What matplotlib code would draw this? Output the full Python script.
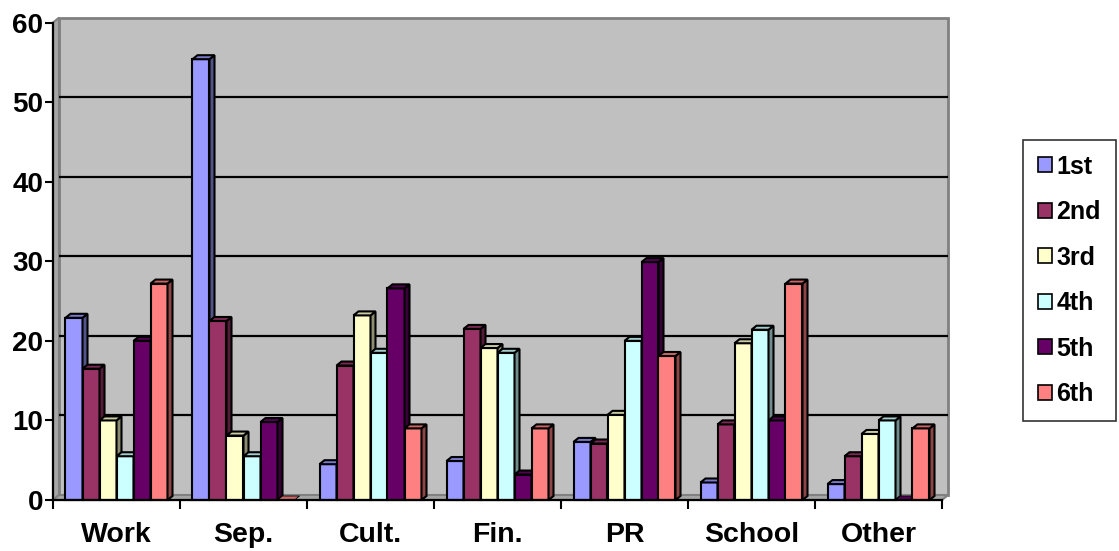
import matplotlib
matplotlib.use("Agg")
import matplotlib.pyplot as plt
from matplotlib.patches import Polygon, Patch
import numpy as np

categories = ["Work", "Sep.", "Cult.", "Fin.", "PR", "School", "Other"]
series_names = ["1st", "2nd", "3rd", "4th", "5th", "6th"]
s1 = [22.9, 55.4, 4.5, 4.9, 7.3, 2.2, 2.0]
s2 = [16.5, 22.5, 16.9, 21.5, 7.1, 9.5, 5.5]
s3 = [10.0, 8.1, 23.2, 19.1, 10.7, 19.7, 8.3]
s4 = [5.5, 5.5, 18.5, 18.5, 20.0, 21.4, 10.0]
s5 = [20.0, 9.8, 26.6, 3.2, 29.9, 10.0, 0.0]
s6 = [27.2, 0.0, 9.0, 9.0, 18.1, 27.2, 9.0]
yticks = [0, 10, 20, 30, 40, 50, 60]

series = [s1, s2, s3, s4, s5, s6]
colors = ["#9999FF", "#993366", "#FFFFCC", "#CCFFFF", "#660066", "#FF8080"]

plt.rcParams["font.family"] = ["Liberation Sans", "DejaVu Sans"]
plt.rcParams["font.weight"] = "bold"

W, H, DPI = 1119, 551, 100
fig = plt.figure(figsize=(W / DPI, H / DPI), dpi=DPI)
ax = fig.add_axes([53 / W, 51 / H, 889 / W, 477.4 / H])
ncat = len(categories)
ax.set_xlim(0, ncat)
ax.set_ylim(0, 60)
ax.patch.set_visible(False)


def px(dx, dy):
    """Convert a pixel offset into a data offset."""
    inv = ax.transData.inverted()
    x0, y0 = inv.transform((0, 0))
    x1, y1 = inv.transform((dx, dy))
    return x1 - x0, y1 - y0


def shade(c, f):
    r, g, b = matplotlib.colors.to_rgb(c)
    return (r * f, g * f, b * f)


# wall / floor geometry
wdx, wdy = px(6, 5)
bdx, bdy = px(5, 4)
ymax = 60

back = Polygon([(wdx, wdy), (ncat + wdx, wdy), (ncat + wdx, ymax + wdy), (wdx, ymax + wdy)],
               closed=True, facecolor="#C0C0C0", edgecolor="#808080", lw=2,
               clip_on=False, zorder=1)
ax.add_patch(back)
left = Polygon([(0, 0), (wdx, wdy), (wdx, ymax + wdy), (0, ymax)], closed=True,
               facecolor="#A6A6A6", edgecolor="#808080", lw=1.5, clip_on=False, zorder=1.2)
ax.add_patch(left)
floor = Polygon([(0, 0), (ncat, 0), (ncat + wdx, wdy), (wdx, wdy)], closed=True,
                facecolor="#A6A6A6", edgecolor="#808080", lw=1.5, clip_on=False, zorder=1.2)
ax.add_patch(floor)

for v in yticks[1:-1]:
    ax.plot([wdx, ncat + wdx], [v + wdy, v + wdy], color="black", lw=1.6,
            clip_on=False, zorder=1.5, solid_capstyle="butt")

# 3-D style bars
bw = 17 / 127
for i in range(ncat):
    start = i + 0.5 - 3 * bw
    for j, vals in enumerate(series):
        h = vals[i]
        x0 = start + j * bw
        x1 = x0 + bw
        z = 3 + i * 0.1 + j * 0.01
        c = colors[j]
        if h > 0:
            ax.add_patch(Polygon([(x0, 0), (x1, 0), (x1, h), (x0, h)], closed=True,
                                 facecolor=c, edgecolor="black", lw=1.5, clip_on=False,
                                 zorder=z, joinstyle="miter"))
            ax.add_patch(Polygon([(x1, 0), (x1 + bdx, bdy), (x1 + bdx, h + bdy), (x1, h)],
                                 closed=True, facecolor=shade(c, 0.55), edgecolor="black",
                                 lw=1.5, clip_on=False, zorder=z))
        ax.add_patch(Polygon([(x0, h), (x1, h), (x1 + bdx, h + bdy), (x0 + bdx, h + bdy)],
                             closed=True, facecolor=shade(c, 0.8), edgecolor="black",
                             lw=1.5 if h > 0 else 0.6, clip_on=False, zorder=z))

# axes
for s in ["top", "right"]:
    ax.spines[s].set_visible(False)
for s in ["left", "bottom"]:
    ax.spines[s].set_linewidth(1.6)
    ax.spines[s].set_zorder(10)
ax.set_yticks(yticks)
ax.set_yticklabels([str(t) for t in yticks], fontsize=20, fontweight="bold")
ax.tick_params(axis="y", length=5.5, width=1.5, pad=1.5)
ax.set_xticks(np.arange(ncat) + 0.5)
ax.set_xticklabels(categories, fontsize=20.5, fontweight="bold")
ax.set_xticks(np.arange(ncat + 1), minor=True)
ax.tick_params(axis="x", which="major", length=0, pad=16)
ax.tick_params(axis="x", which="minor", length=6.5, width=1.5)

handles = [Patch(facecolor=c, edgecolor="black", lw=1.2) for c in colors]
leg = fig.legend(handles, series_names, loc="upper left",
                 bbox_to_anchor=(1023 / W, 1 - 140 / H), frameon=True,
                 prop={"family": "Liberation Sans", "weight": "bold", "size": 18},
                 handlelength=0.55, handleheight=0.55, handletextpad=0.2,
                 labelspacing=0.86, borderpad=0.59, borderaxespad=0, fancybox=False)
leg.get_frame().set_edgecolor("black")
leg.get_frame().set_linewidth(1.2)

fig.savefig("out.png", dpi=DPI)
